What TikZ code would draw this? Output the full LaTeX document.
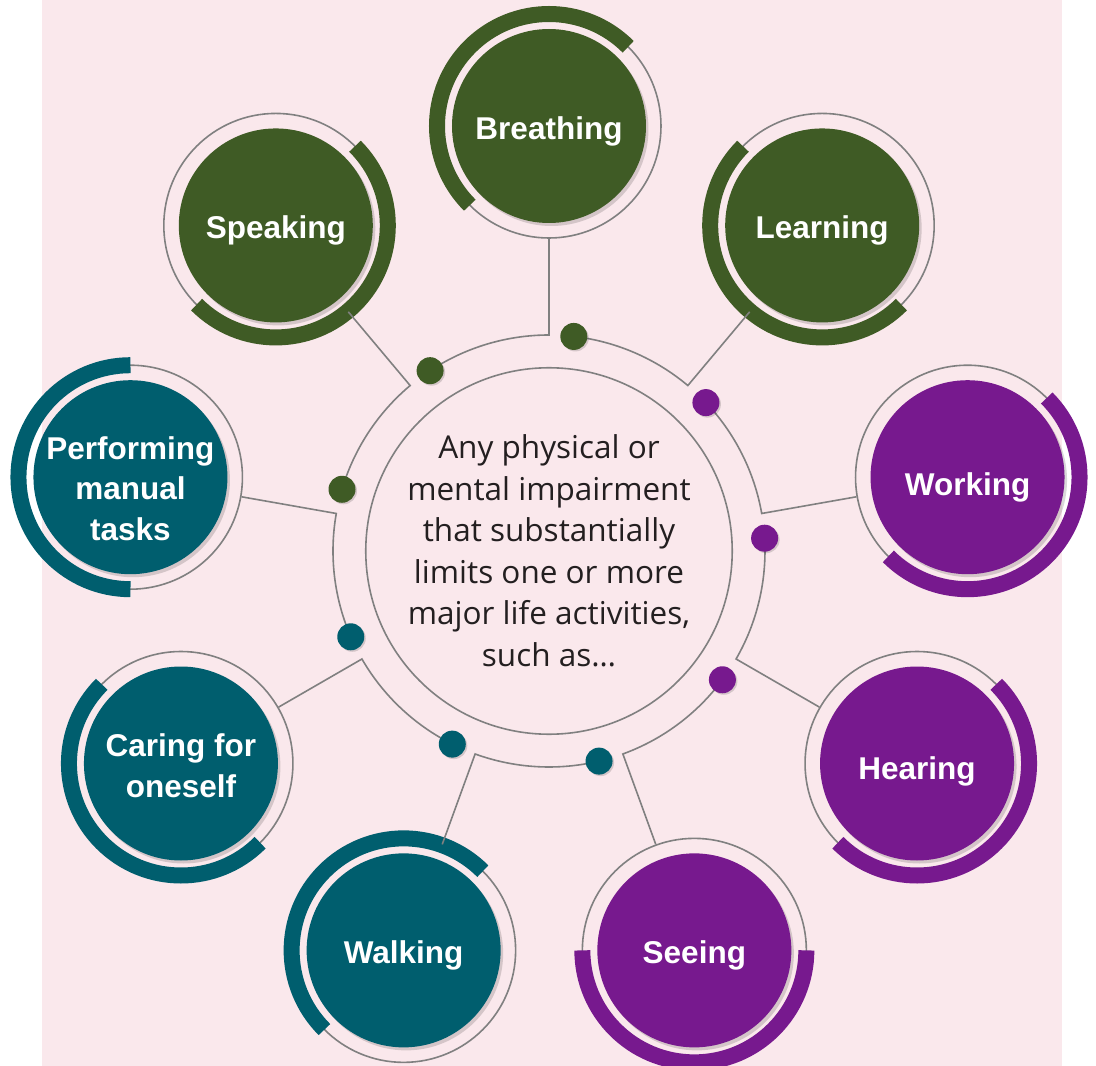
\documentclass[tikz,border=0pt]{standalone}
\usepackage{fontspec}
\setmainfont{Liberation Sans}
\newfontfamily\corefont{Open Sans}
\usetikzlibrary{shadows}
\definecolor{mygreen}{RGB}{63,91,37}
\definecolor{myteal}{RGB}{0,94,110}
\definecolor{mypurple}{RGB}{119,25,142}
\definecolor{bgpink}{RGB}{250,232,236}
\definecolor{linegray}{RGB}{128,128,128}
\definecolor{coretext}{RGB}{35,31,32}
\tikzset{
  halo/.style={circle, draw=linegray, line width=1.6pt, minimum size=224pt, inner sep=0pt},
  bubble/.style={circle, minimum size=194pt, inner sep=0pt,
    drop shadow={shadow xshift=2.5pt, shadow yshift=-3pt, fill=black, opacity=0.15}},
  caption/.style={text=white, align=center, text depth=0pt, inner sep=0pt, yshift=-2pt,
    font=\bfseries\fontsize{31.5}{40.5}\selectfont},
  band/.style={line width=16pt},
  wire/.style={draw=linegray, line width=1.6pt},
  spot/.style={circle, minimum size=27pt, inner sep=0pt,
    drop shadow={shadow xshift=1.5pt, shadow yshift=-1.5pt, fill=black, opacity=0.15}},
  core/.style={circle, draw=linegray, line width=1.6pt, minimum size=360pt, inner sep=0pt,
    align=center, text=coretext, font=\corefont\fontsize{31.5}{41.5}\selectfont},
}

\begin{document}
\begin{tikzpicture}
  \useasboundingbox (-549pt,-515pt) rectangle (547pt,551pt);
  \fill[bgpink] (-507pt,-515pt) rectangle (513pt,551pt);

  \node[core] (core) at (0,0) {Any physical or\\mental impairment\\that substantially\\limits one or more\\major life activities,\\such as…};

  % breathing
  \node[halo] (breathing-ring) at (90:425pt) {};
  \draw[band, mygreen] (breathing-ring.center) ++(45:112pt) arc[start angle=45, end angle=225, radius=112pt];
  \node[bubble, fill=mygreen, label={[caption]center:Breathing}] (breathing) at (breathing-ring.center) {};
  \coordinate (breathing-j) at (90:216pt);
  \draw[wire] (breathing-ring) -- (breathing-j) arc[start angle=90, end angle=123.4, radius=216pt];
  \node[spot, fill=mygreen] (breathing-dot) at (123.4:216pt) {};

  % speaking
  \node[halo] (speaking-ring) at (130:425pt) {};
  \draw[band, mygreen] (speaking-ring.center) ++(-135:112pt) arc[start angle=-135, end angle=45, radius=112pt];
  \node[bubble, fill=mygreen, label={[caption]center:Speaking}] (speaking) at (speaking-ring.center) {};
  \coordinate (speaking-j) at (130:216pt);
  \draw[wire] (speaking-ring) -- (speaking-j) arc[start angle=130, end angle=163.4, radius=216pt];
  \node[spot, fill=mygreen] (speaking-dot) at (163.4:216pt) {};

  % performing manual tasks
  \node[halo] (manual-ring) at (170:425pt) {};
  \draw[band, myteal] (manual-ring.center) ++(90:112pt) arc[start angle=90, end angle=270, radius=112pt];
  \node[bubble, fill=myteal, label={[caption, yshift=-9pt]center:{Performing\\manual\\tasks}}] (manual) at (manual-ring.center) {};
  \coordinate (manual-j) at (170:216pt);
  \draw[wire] (manual-ring) -- (manual-j) arc[start angle=170, end angle=203.4, radius=216pt];
  \node[spot, fill=myteal] (manual-dot) at (203.4:216pt) {};

  % caring for oneself
  \node[halo] (caring-ring) at (210:425pt) {};
  \draw[band, myteal] (caring-ring.center) ++(135:112pt) arc[start angle=135, end angle=315, radius=112pt];
  \node[bubble, fill=myteal, label={[caption]center:{Caring for\\oneself}}] (caring) at (caring-ring.center) {};
  \coordinate (caring-j) at (210:216pt);
  \draw[wire] (caring-ring) -- (caring-j) arc[start angle=210, end angle=243.4, radius=216pt];
  \node[spot, fill=myteal] (caring-dot) at (243.4:216pt) {};

  % walking
  \node[halo] (walking-ring) at (250:425pt) {};
  \draw[band, myteal] (walking-ring.center) ++(45:112pt) arc[start angle=45, end angle=225, radius=112pt];
  \node[bubble, fill=myteal, label={[caption]center:Walking}] (walking) at (walking-ring.center) {};
  \coordinate (walking-j) at (250:216pt);
  \draw[wire] (walking-ring) -- (walking-j) arc[start angle=250, end angle=283.4, radius=216pt];
  \node[spot, fill=myteal] (walking-dot) at (283.4:216pt) {};

  % seeing
  \node[halo] (seeing-ring) at (290:425pt) {};
  \draw[band, mypurple] (seeing-ring.center) ++(180:112pt) arc[start angle=180, end angle=360, radius=112pt];
  \node[bubble, fill=mypurple, label={[caption]center:Seeing}] (seeing) at (seeing-ring.center) {};
  \coordinate (seeing-j) at (290:216pt);
  \draw[wire] (seeing-ring) -- (seeing-j) arc[start angle=290, end angle=323.4, radius=216pt];
  \node[spot, fill=mypurple] (seeing-dot) at (323.4:216pt) {};

  % hearing
  \node[halo] (hearing-ring) at (330:425pt) {};
  \draw[band, mypurple] (hearing-ring.center) ++(-135:112pt) arc[start angle=-135, end angle=45, radius=112pt];
  \node[bubble, fill=mypurple, label={[caption, yshift=-3pt]center:Hearing}] (hearing) at (hearing-ring.center) {};
  \coordinate (hearing-j) at (330:216pt);
  \draw[wire] (hearing-ring) -- (hearing-j) arc[start angle=330, end angle=363.4, radius=216pt];
  \node[spot, fill=mypurple] (hearing-dot) at (363.4:216pt) {};

  % working
  \node[halo] (working-ring) at (10:425pt) {};
  \draw[band, mypurple] (working-ring.center) ++(-135:112pt) arc[start angle=-135, end angle=45, radius=112pt];
  \node[bubble, fill=mypurple, label={[caption, yshift=-5pt]center:Working}] (working) at (working-ring.center) {};
  \coordinate (working-j) at (10:216pt);
  \draw[wire] (working-ring) -- (working-j) arc[start angle=10, end angle=43.4, radius=216pt];
  \node[spot, fill=mypurple] (working-dot) at (43.4:216pt) {};

  % learning
  \node[halo] (learning-ring) at (50:425pt) {};
  \draw[band, mygreen] (learning-ring.center) ++(135:112pt) arc[start angle=135, end angle=315, radius=112pt];
  \node[bubble, fill=mygreen, label={[caption]center:Learning}] (learning) at (learning-ring.center) {};
  \coordinate (learning-j) at (50:216pt);
  \draw[wire] (learning-ring) -- (learning-j) arc[start angle=50, end angle=83.4, radius=216pt];
  \node[spot, fill=mygreen] (learning-dot) at (83.4:216pt) {};
\end{tikzpicture}
\end{document}
